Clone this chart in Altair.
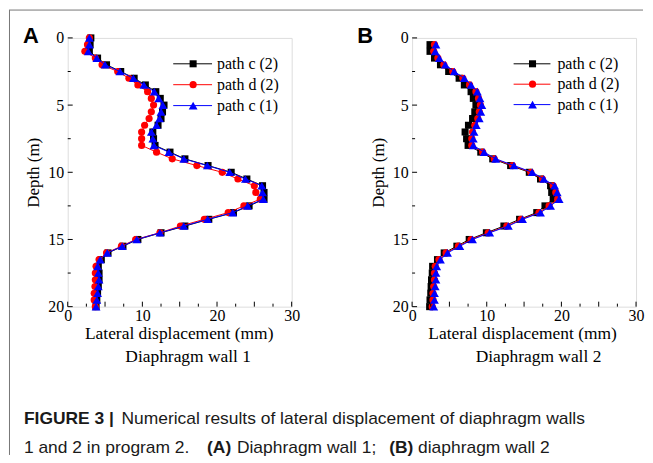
import altair as alt
import pandas as pd

# ---------------- data ----------------
depth_A = [0, 0.5, 1, 1.5, 2, 2.5, 3, 3.5, 4, 4.5, 5, 5.5, 6, 6.5, 7, 7.5, 8, 8.5, 9, 9.5,
           10, 10.5, 11, 11.5, 12, 12.5, 13, 13.5, 14, 14.5, 15, 15.5, 16, 16.5, 17, 17.5,
           18, 18.5, 19, 19.5, 20]
A_c2 = [3.1, 3.0, 2.9, 4.0, 5.2, 7.1, 8.9, 10.4, 11.8, 12.4, 12.9, 12.7, 12.5, 12.1, 11.4, 11.5,
        11.7, 13.7, 15.7, 18.8, 21.9, 24.0, 26.1, 26.3, 26.3, 24.3, 22.2, 18.9, 15.7, 12.5, 9.4,
        7.4, 5.4, 4.5, 4.1, 4.2, 4.2, 4.1, 4.0, 3.9, 3.8]
A_d2 = [2.9, 2.65, 2.3, 3.7, 4.6, 6.7, 8.2, 9.4, 10.7, 11.2, 11.5, 11.2, 10.9, 10.3, 9.9, 9.9,
        9.9, 11.9, 14.0, 17.3, 20.7, 22.8, 25.0, 25.2, 25.8, 23.6, 21.5, 18.3, 15.1, 12.35, 9.1,
        7.2, 5.2, 4.2, 3.8, 3.7, 3.7, 3.65, 3.55, 3.55, 3.7]
A_c1 = [2.9, 2.9, 2.75, 3.9, 5.0, 7.0, 8.8, 10.2, 11.6, 12.2, 12.75, 12.5, 12.3, 11.9, 11.2, 11.4,
        11.55, 13.55, 15.55, 18.7, 21.7, 23.8, 26.0, 26.1, 26.2, 24.1, 22.1, 18.75, 15.55, 12.35,
        9.25, 7.3, 5.3, 4.35, 4.0, 4.1, 4.2, 4.1, 4.0, 3.9, 3.8]

depth_B = [0.5, 1, 1.5, 2, 2.5, 3, 3.5, 4, 4.5, 5, 5.5, 6, 6.5, 7, 7.5, 8, 8.5, 9, 9.5,
           10, 10.5, 11, 11.5, 12, 12.5, 13, 13.5, 14, 14.5, 15, 15.5, 16, 16.5, 17, 17.5,
           18, 18.5, 19, 19.5, 20]
B_c2 = [2.4, 2.4, 3.0, 3.8, 4.9, 6.3, 7.0, 7.9, 8.2, 8.55, 8.4, 8.1, 7.55, 7.1, 7.3, 7.5,
        9.2, 10.8, 13.2, 15.7, 17.2, 18.55, 18.7, 18.9, 17.8, 16.7, 14.4, 12.3, 9.95, 7.65, 6.0, 4.3,
        3.4, 2.75, 2.7, 2.6, 2.55, 2.5, 2.4, 2.35]
B_d2 = [3.0, 2.9, 3.45, 4.25, 5.45, 6.8, 7.7, 8.55, 8.9, 9.15, 9.0, 8.8, 8.4, 8.1, 8.0, 8.0,
        9.45, 11.0, 13.45, 15.9, 17.45, 18.9, 19.25, 19.5, 18.35, 17.0, 14.6, 12.7, 10.2, 7.9, 6.2, 4.55,
        3.6, 3.1, 3.0, 3.0, 2.9, 2.8, 2.8, 2.7]
B_c1 = [3.2, 3.1, 3.65, 4.45, 5.65, 7.0, 7.9, 8.75, 9.1, 9.35, 9.2, 9.0, 8.6, 8.3, 8.2, 8.2,
        9.65, 11.2, 13.65, 16.1, 17.65, 19.1, 19.45, 19.7, 18.55, 17.2, 14.8, 12.9, 10.4, 8.1, 6.4, 4.75,
        3.8, 3.3, 3.2, 3.2, 3.1, 3.0, 3.0, 2.9]

series_names = ["path c (2)", "path d (2)", "path c (1)"]
x_major = [0, 5, 10, 15, 20, 25, 30]
x_minor = [2.5, 7.5, 12.5, 17.5, 22.5, 27.5]
y_major = [0, 5, 10, 15, 20]
y_minor = [2.5, 7.5, 12.5, 17.5]

x_title = "Lateral displacement  (mm)"
panel_titles = ["Diaphragm wall 1", "Diaphragm wall 2"]
y_title = "Depth (m)"

# ---------------- styles ----------------
colors = ["#000000", "#ff0000", "#0000ff"]
shapes = ["square", "circle", "triangle-up"]
sizes = [50, 52, 78]
SERIF = "Liberation Serif"
SANS = "Liberation Sans"
W, H = 225, 270

one = alt.Data(values=[{}])


def text_layer(txt, x, y, font=SERIF, size=15, weight="normal", align="center", baseline="middle",
               color="black", angle=0):
    return alt.Chart(one).mark_text(
        text=txt, font=font, fontSize=size, fontWeight=weight, align=align, baseline=baseline,
        color=color, angle=angle
    ).encode(x=alt.value(x), y=alt.value(y))


def panel(depth, series, letter, letter_xy, title2, t1x, t2x, leg):
    xs = alt.Scale(domain=[0, 30], nice=False, zero=False)
    ys = alt.Scale(domain=[0, 20], nice=False, zero=False, reverse=True)
    xax = alt.Axis(values=x_major, ticks=False, domain=False, grid=False, labelFont=SERIF,
                   labelFontSize=16, labelColor="black", labelPadding=1, title=None,
                   labelFlush=False, labelOverlap=False)
    yax = alt.Axis(values=y_major, ticks=False, domain=False, grid=False, labelFont=SERIF,
                   labelFontSize=16, labelColor="black", labelPadding=4, labelFlush=False,
                   labelOverlap=False,
                   title=y_title, titleFont=SERIF, titleFontSize=17, titleFontWeight="normal",
                   titleColor="black", titleX=-34, titleY=H / 2, titleAngle=270,
                   titleAlign="center", titleBaseline="middle")
    layers = []
    first = True
    for vals, col, shp, sz in zip(series, colors, shapes, sizes):
        df = pd.DataFrame({"depth": depth, "disp": vals})
        base = alt.Chart(df)
        if first:
            xe = alt.X("disp:Q", scale=xs, axis=xax)
            ye = alt.Y("depth:Q", scale=ys, axis=yax)
            first = False
        else:
            xe = alt.X("disp:Q", scale=xs)
            ye = alt.Y("depth:Q", scale=ys)
        layers.append(base.mark_line(color=col, strokeWidth=1).encode(x=xe, y=ye, order="depth:Q"))
        layers.append(base.mark_point(shape=shp, filled=True, size=sz, color=col, opacity=1)
                      .encode(x=alt.X("disp:Q", scale=xs), y=alt.Y("depth:Q", scale=ys)))
    # inside ticks
    layers.append(alt.Chart(pd.DataFrame({"v": x_major})).mark_rule(color="black", strokeWidth=1)
                  .encode(x=alt.X("v:Q", scale=xs), y=alt.value(H - 5), y2=alt.value(H)))
    layers.append(alt.Chart(pd.DataFrame({"v": x_minor})).mark_rule(color="black", strokeWidth=1)
                  .encode(x=alt.X("v:Q", scale=xs), y=alt.value(H - 3), y2=alt.value(H)))
    layers.append(alt.Chart(pd.DataFrame({"v": y_major})).mark_rule(color="black", strokeWidth=1)
                  .encode(y=alt.Y("v:Q", scale=ys), x=alt.value(0), x2=alt.value(5)))
    layers.append(alt.Chart(pd.DataFrame({"v": y_minor})).mark_rule(color="black", strokeWidth=1)
                  .encode(y=alt.Y("v:Q", scale=ys), x=alt.value(0), x2=alt.value(3)))
    # legend
    lx0, lx1, lmx, ltx, ly0, ldy = leg
    for i, (name, col, shp, sz) in enumerate(zip(series_names, colors, shapes, sizes)):
        yy = ly0 + i * ldy
        layers.append(alt.Chart(one).mark_rule(color=col, strokeWidth=1)
                      .encode(x=alt.value(lx0), x2=alt.value(lx1), y=alt.value(yy)))
        layers.append(alt.Chart(one).mark_point(shape=shp, filled=True, size=sz, color=col, opacity=1)
                      .encode(x=alt.value(lmx), y=alt.value(yy)))
        layers.append(text_layer(name, ltx, yy, size=16, align="left"))
    # titles
    layers.append(text_layer(letter, letter_xy[0], letter_xy[1], font=SANS, size=22, weight="bold",
                             align="left", baseline="alphabetic"))
    layers.append(text_layer(x_title, t1x, 297, size=17.5))
    layers.append(text_layer(title2, t2x, 321, size=17.5))
    return layers


layA = panel(depth_A, [A_c2, A_d2, A_c1], "A", (-45, 5), panel_titles[0], 112, 121,
             (106, 145, 126, 150, 26, 21))
layB = panel(depth_B, [B_c2, B_d2, B_c1], "B", (-55, 5), panel_titles[1], 111, 127,
             (102, 139, 121, 146, 26, 20.5))

# figure frame (top and left border) and caption, placed relative to panel A
GRAY = "#777777"
layA.append(alt.Chart(one).mark_rule(color=GRAY, strokeWidth=1)
            .encode(x=alt.value(-59), x2=alt.value(578), y=alt.value(-28)))
layA.append(alt.Chart(one).mark_rule(color=GRAY, strokeWidth=1)
            .encode(x=alt.value(-58.5), y=alt.value(-28), y2=alt.value(419)))
cap_font = SANS
cap_size = 17.5
cy1, cy2 = 388, 417
caption_parts = [
    ("FIGURE 3 |", -44, cy1, "bold"),
    ("Numerical results of lateral displacement of diaphragm walls", 54, cy1, "normal"),
    ("1 and 2 in program 2.", -44, cy2, "normal"),
    ("(A)", 140, cy2, "bold"),
    ("Diaphragm wall 1;", 170, cy2, "normal"),
    ("(B)", 323, cy2, "bold"),
    ("diaphragm wall 2", 352, cy2, "normal"),
]
for txt, x, y, wt in caption_parts:
    layA.append(text_layer(txt, x, y, font=cap_font, size=cap_size, weight=wt, align="left",
                           baseline="alphabetic", color="#1a1a1a"))

chartA = alt.layer(*layA).properties(width=W, height=H)
chartB = alt.layer(*layB).properties(width=W, height=H)

chart = alt.hconcat(chartA, chartB, spacing=121, bounds="flush").properties(
    padding=0
).configure_view(stroke="black", strokeWidth=1).configure(background="white")

chart.save("out.html", embed_options={"renderer": "svg", "actions": False})
